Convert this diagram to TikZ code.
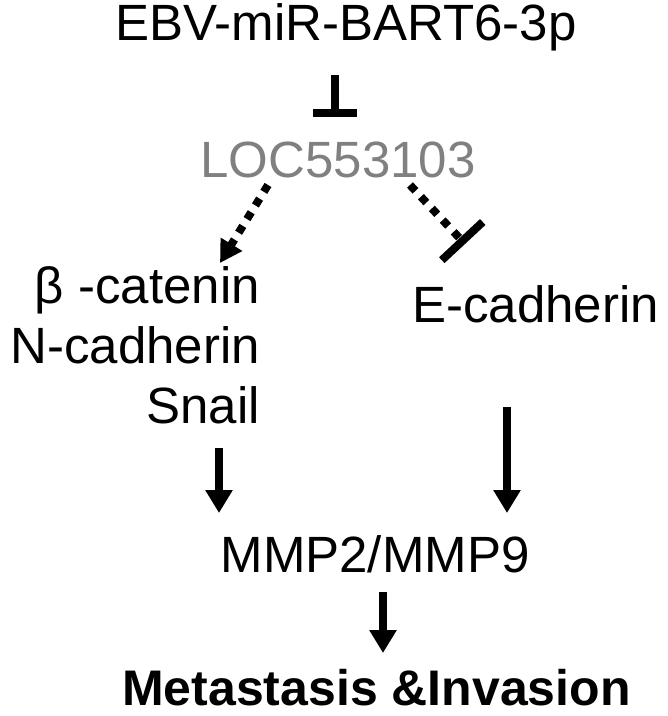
\documentclass[tikz,border=0pt]{standalone}
\usepackage{fontspec}
\setmainfont{Liberation Sans}
\usetikzlibrary{arrows.meta}
\usetikzlibrary{calc}
\definecolor{locgray}{RGB}{128,128,128}
\begin{document}
\begin{tikzpicture}[x=1pt,y=-1pt]
		\tikzset{gene/.style = {inner sep=0pt, anchor=base, font=\fontsize{51}{61}\selectfont}}
		\tikzset{act/.style = {-{Triangle[length=23pt,width=26pt]}, line width=8pt}}
		\tikzset{inh/.style = {-{Bar[width=44pt,line width=8pt]}, line width=8pt}}
		\tikzset{dots/.style = {line width=8pt, dash pattern=on 8pt off 8pt}}
		\useasboundingbox (0,0) rectangle (668,716);
		% genes
		\node[gene] (mir) at (346,40) {EBV-miR-BART6-3p};
		\node[gene, text=locgray] (loc) at (338,177) {LOC553103};
		
		\node[gene, anchor=base east] (cat) at (260,303) {β -catenin};
		\node[gene, anchor=base east] (ncad) at (260,363) {N-cadherin};
		\node[gene, anchor=base east] (snail) at (260,423) {Snail};
		\node[gene, anchor=base west] (ecad) at (412,322) {E-cadherin};
		
		\node[gene] (mmp) at (375,572) {MMP2/MMP9};
		\node[gene, font=\fontsize{50}{60}\selectfont\bfseries] (meta) at (376.5,705) {Metastasis \&Invasion};
		
		%edges
		\draw[inh] ($(mir.base)+(-11,35)$) -- ($(loc.base)+(-3,-60)$);
		
		\draw[dots, -{Triangle[length=22pt,width=24pt]}] ($(loc.base)+(-70,8)$) -- ($(cat.base east)+(-40,-40)$);
		
		\draw[dots, -{Bar[width=56pt,line width=8pt]}] ($(loc.base)+(72,8)$) -- ($(ecad.base west)+(53,-78)$);
		
		\draw[act] ($(snail.base east)+(-41,25)$) -- ($(mmp.base)+(-156,-59)$);
		
		\draw[act] ($(ecad.base west)+(95,85)$) -- ($(mmp.base)+(132,-59)$);
		
		\draw[act] ($(mmp.base)+(8,20)$) -- ($(meta.base)+(6.5,-52)$);
		
\end{tikzpicture}
\end{document}
